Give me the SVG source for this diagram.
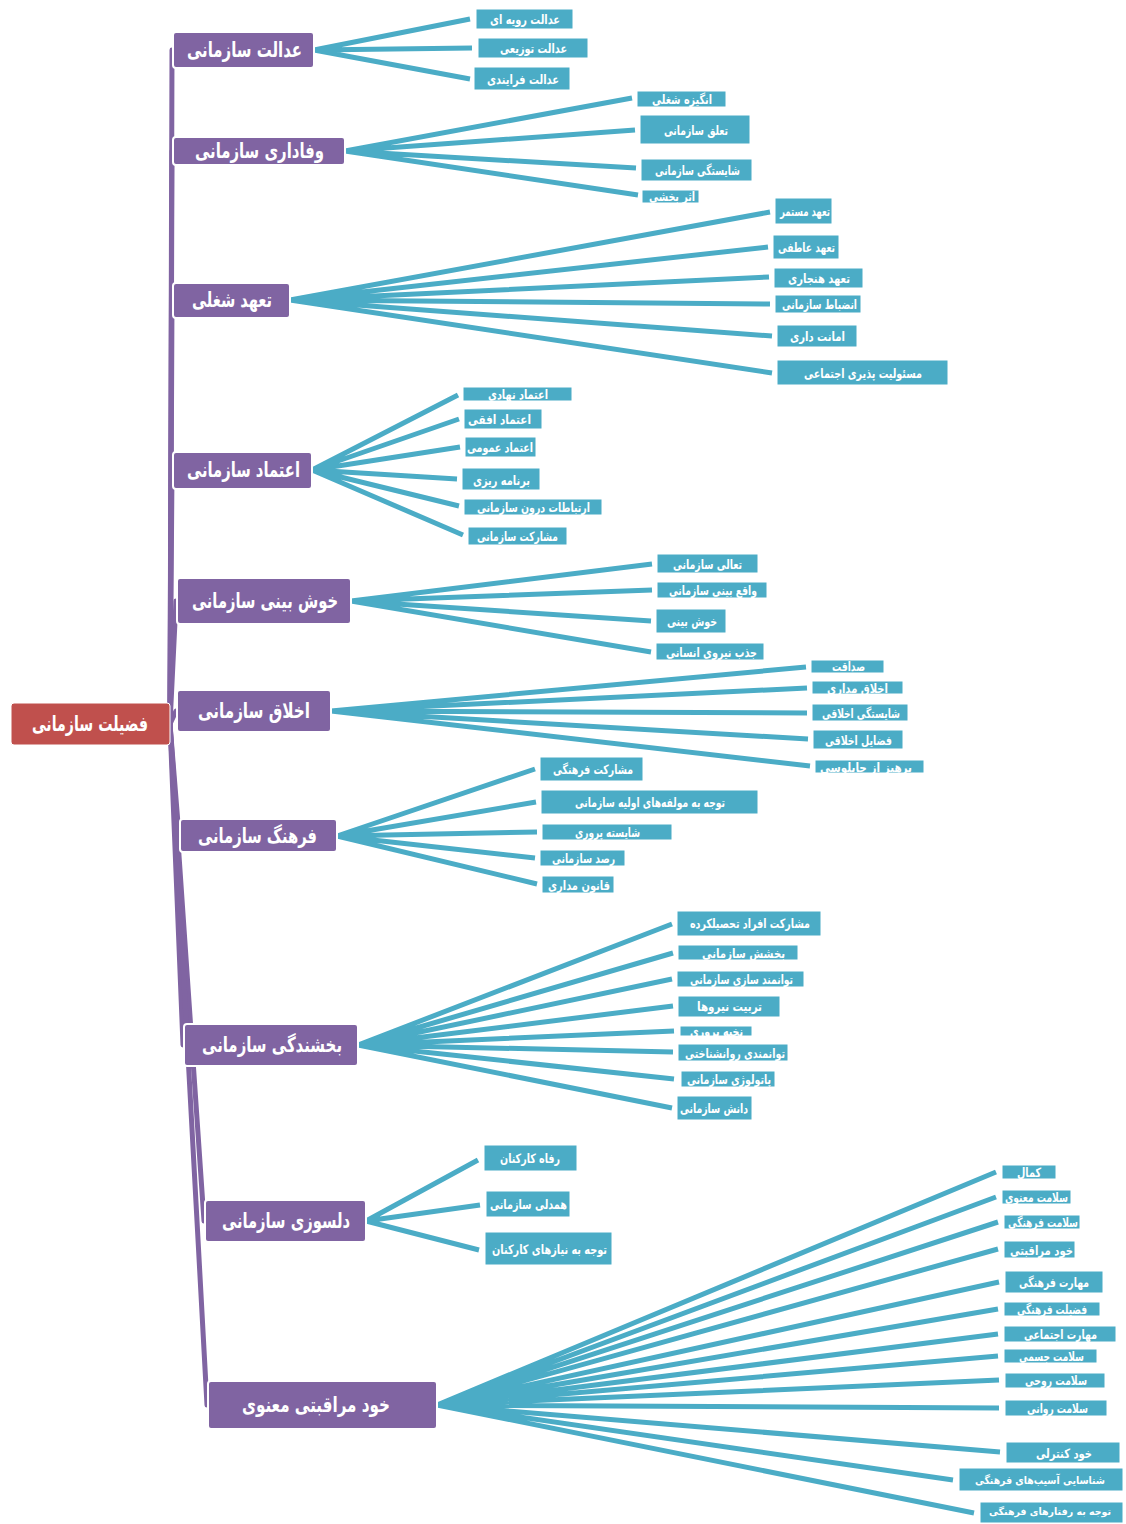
<svg xmlns="http://www.w3.org/2000/svg" width="1126" height="1524" viewBox="0 0 1126 1524">
<style>
.trunk{stroke:#8064A2;stroke-width:5;fill:none;stroke-linecap:round}
.link{stroke:#4BACC6;stroke-width:5;fill:none}
.root rect{fill:#C0504D;stroke:#ffffff;stroke-width:1}
.br rect{fill:#8064A2;stroke:#ffffff;stroke-width:2}
.lf rect{fill:#4BACC6;stroke:#ffffff;stroke-width:1}
text{font-family:"DejaVu Sans","Noto Sans",sans-serif;font-weight:bold;fill:#ffffff;text-anchor:middle;dominant-baseline:central}
.root text{font-size:21px}
.br text{font-size:21px}
.lf text{font-size:13px}
.lf text.sm{font-size:11px}
.lf text.xs{font-size:10px}
</style>
<rect x="0" y="0" width="1126" height="1524" fill="#ffffff"/>
<g id="connectors">
<g id="trunks">
<path class="trunk" d="M170,724 L172,50"/>
<path class="trunk" d="M170,724 L172,151"/>
<path class="trunk" d="M170,724 L172,300"/>
<path class="trunk" d="M170,724 L172,470"/>
<path class="trunk" d="M170,724 L176,601"/>
<path class="trunk" d="M170,724 L176,711"/>
<path class="trunk" d="M170,724 L179,836"/>
<path class="trunk" d="M170,724 L183,1045"/>
<path class="trunk" d="M170,724 L204,1221"/>
<path class="trunk" d="M170,724 L207,1405"/>
</g>
<g id="links">
<path class="link" d="M314,50 L470,19 M314,50 L472,48 M314,50 L470,79"/>
<path class="link" d="M345,151 L632,98 M345,151 L635,130 M345,151 L636,168 M345,151 L638,195"/>
<path class="link" d="M290,300 L770,212 M290,300 L768,247 M290,300 L769,277 M290,300 L770,304 M290,300 L772,336 M290,300 L772,373"/>
<path class="link" d="M312,470 L458,395 M312,470 L459,419 M312,470 L460,447 M312,470 L457,479 M312,470 L459,506 M312,470 L463,535"/>
<path class="link" d="M351,601 L652,564 M351,601 L652,590 M351,601 L651,621 M351,601 L651,652"/>
<path class="link" d="M331,711 L806,667 M331,711 L807,688 M331,711 L807,713 M331,711 L808,739 M331,711 L810,766"/>
<path class="link" d="M337,836 L535,769 M337,836 L536,802 M337,836 L537,832 M337,836 L535,858 M337,836 L537,884"/>
<path class="link" d="M358,1045 L672,924 M358,1045 L673,953 M358,1045 L672,979 M358,1045 L673,1006 M358,1045 L674,1031 M358,1045 L673,1052 M358,1045 L674,1079 M358,1045 L672,1108"/>
<path class="link" d="M366,1221 L478,1160 M366,1221 L480,1205 M366,1221 L479,1250"/>
<path class="link" d="M437,1405 L996,1172 M437,1405 L996,1197 M437,1405 L998,1222 M437,1405 L998,1249 M437,1405 L999,1282 M437,1405 L998,1309 M437,1405 L998,1334 M437,1405 L998,1356 M437,1405 L999,1380 M437,1405 L999,1408 M437,1405 L1000,1452 M437,1405 L953,1480 M437,1405 L974,1513"/>
</g>
</g>
<g id="root" class="root"><rect x="11" y="703" width="159" height="42" rx="3"/><text x="90" y="724" textLength="116" lengthAdjust="spacingAndGlyphs">فضیلت سازمانی</text></g>

<g id="b1" class="br"><rect x="173" y="32" width="141" height="36" rx="3"/><text x="244.5" y="50" textLength="115" lengthAdjust="spacingAndGlyphs">عدالت سازمانی</text></g>
<g id="b2" class="br"><rect x="173" y="137" width="172" height="28" rx="3"/><text x="259.5" y="151" textLength="129" lengthAdjust="spacingAndGlyphs">وفاداری سازمانی</text></g>
<g id="b3" class="br"><rect x="173" y="283" width="117" height="35" rx="3"/><text x="232" y="300" textLength="80" lengthAdjust="spacingAndGlyphs">تعهد شغلی</text></g>
<g id="b4" class="br"><rect x="173" y="452" width="139" height="37" rx="3"/><text x="243.5" y="470" textLength="113" lengthAdjust="spacingAndGlyphs">اعتماد سازمانی</text></g>
<g id="b5" class="br"><rect x="177" y="578" width="174" height="46" rx="3"/><text x="265" y="601" textLength="146" lengthAdjust="spacingAndGlyphs">خوش بینی سازمانی</text></g>
<g id="b6" class="br"><rect x="177" y="690" width="154" height="42" rx="3"/><text x="254" y="711" textLength="112" lengthAdjust="spacingAndGlyphs">اخلاق سازمانی</text></g>
<g id="b7" class="br"><rect x="180" y="819" width="157" height="33" rx="3"/><text x="257.5" y="836" textLength="119" lengthAdjust="spacingAndGlyphs">فرهنگ سازمانی</text></g>
<g id="b8" class="br"><rect x="184" y="1024" width="174" height="42" rx="3"/><text x="272" y="1045" textLength="140" lengthAdjust="spacingAndGlyphs">بخشندگی سازمانی</text></g>
<g id="b9" class="br"><rect x="205" y="1200" width="161" height="42" rx="3"/><text x="286" y="1221" textLength="128" lengthAdjust="spacingAndGlyphs">دلسوزی سازمانی</text></g>
<g id="b10" class="br"><rect x="208" y="1381" width="229" height="48" rx="3"/><text x="316" y="1405" textLength="148" lengthAdjust="spacingAndGlyphs">خود مراقبتی معنوی</text></g>

<g id="l1a" class="lf"><rect x="476" y="9" width="97" height="20"/><text x="525" y="19" textLength="70" lengthAdjust="spacingAndGlyphs">عدالت رویه ای</text></g>
<g id="l1b" class="lf"><rect x="478" y="38" width="110" height="20"/><text x="533.5" y="48" textLength="67" lengthAdjust="spacingAndGlyphs">عدالت توزیعی</text></g>
<g id="l1c" class="lf"><rect x="474" y="67" width="96" height="23"/><text x="523" y="79" textLength="72" lengthAdjust="spacingAndGlyphs">عدالت فرایندی</text></g>

<g id="l2a" class="lf"><rect x="637" y="91" width="89" height="16"/><text x="682" y="99" textLength="60" lengthAdjust="spacingAndGlyphs">انگیزه شغلی</text></g>
<g id="l2b" class="lf"><rect x="640" y="115" width="110" height="29"/><text x="696" y="130" textLength="64" lengthAdjust="spacingAndGlyphs">تعلق سازمانی</text></g>
<g id="l2c" class="lf"><rect x="641" y="159" width="111" height="22"/><text x="697.5" y="170" textLength="85" lengthAdjust="spacingAndGlyphs">شایستگی سازمانی</text></g>
<g id="l2d" class="lf"><rect x="642" y="190" width="57" height="13"/><text x="672" y="196" textLength="46" lengthAdjust="spacingAndGlyphs">اثر بخشی</text></g>

<g id="l3a" class="lf"><rect x="775" y="198" width="57" height="26"/><text x="805" y="211" textLength="50" lengthAdjust="spacingAndGlyphs">تعهد مستمر</text></g>
<g id="l3b" class="lf"><rect x="773" y="235" width="66" height="24"/><text x="806.5" y="247" textLength="57" lengthAdjust="spacingAndGlyphs">تعهد عاطفی</text></g>
<g id="l3c" class="lf"><rect x="774" y="268" width="89" height="20"/><text x="819" y="278" textLength="62" lengthAdjust="spacingAndGlyphs">تعهد هنجاری</text></g>
<g id="l3d" class="lf"><rect x="775" y="295" width="86" height="18"/><text x="819.5" y="304" textLength="75" lengthAdjust="spacingAndGlyphs">انضباط سازمانی</text></g>
<g id="l3e" class="lf"><rect x="777" y="325" width="80" height="22"/><text x="817.5" y="336" textLength="55" lengthAdjust="spacingAndGlyphs">امانت داری</text></g>
<g id="l3f" class="lf"><rect x="777" y="360" width="171" height="25"/><text x="863" y="373" textLength="118" lengthAdjust="spacingAndGlyphs">مسئولیت پذیری اجتماعی</text></g>

<g id="l4a" class="lf"><rect x="463" y="387" width="109" height="14"/><text x="518" y="394" textLength="60" lengthAdjust="spacingAndGlyphs">اعتماد نهادی</text></g>
<g id="l4b" class="lf"><rect x="464" y="409" width="78" height="20"/><text x="499.5" y="419" textLength="63" lengthAdjust="spacingAndGlyphs">اعتماد افقی</text></g>
<g id="l4c" class="lf"><rect x="465" y="437" width="71" height="20"/><text x="500" y="447" textLength="66" lengthAdjust="spacingAndGlyphs">اعتماد عمومی</text></g>
<g id="l4d" class="lf"><rect x="462" y="468" width="78" height="22"/><text x="501.5" y="480" textLength="57" lengthAdjust="spacingAndGlyphs">برنامه ریزی</text></g>
<g id="l4e" class="lf"><rect x="464" y="499" width="138" height="16"/><text x="533.5" y="507" textLength="113" lengthAdjust="spacingAndGlyphs">ارتباطات درون سازمانی</text></g>
<g id="l4f" class="lf"><rect x="468" y="527" width="99" height="18"/><text x="517.5" y="536" textLength="81" lengthAdjust="spacingAndGlyphs">مشارکت سازمانی</text></g>

<g id="l5a" class="lf"><rect x="657" y="554" width="101" height="19"/><text x="707.5" y="564" textLength="69" lengthAdjust="spacingAndGlyphs">تعالی سازمانی</text></g>
<g id="l5b" class="lf"><rect x="657" y="582" width="110" height="16"/><text x="713" y="590" textLength="88" lengthAdjust="spacingAndGlyphs">واقع بینی سازمانی</text></g>
<g id="l5c" class="lf"><rect x="656" y="609" width="70" height="24"/><text x="692" y="621" textLength="50" lengthAdjust="spacingAndGlyphs">خوش بینی</text></g>
<g id="l5d" class="lf"><rect x="656" y="643" width="108" height="17"/><text x="711.5" y="652" textLength="91" lengthAdjust="spacingAndGlyphs">جذب نیروی انسانی</text></g>

<g id="l6a" class="lf"><rect x="811" y="660" width="73" height="13"/><text x="848.5" y="666" textLength="33" lengthAdjust="spacingAndGlyphs">صداقت</text></g>
<g id="l6b" class="lf"><rect x="812" y="681" width="91" height="13"/><text x="857.5" y="688" textLength="61" lengthAdjust="spacingAndGlyphs">اخلاق مداری</text></g>
<g id="l6c" class="lf"><rect x="812" y="704" width="96" height="17"/><text x="861" y="713" textLength="78" lengthAdjust="spacingAndGlyphs">شایستگی اخلاقی</text></g>
<g id="l6d" class="lf"><rect x="813" y="730" width="90" height="19"/><text x="858.5" y="740" textLength="67" lengthAdjust="spacingAndGlyphs">فضایل اخلاقی</text></g>
<g id="l6e" class="lf"><rect x="815" y="760" width="109" height="13"/><text x="866" y="767" textLength="92" lengthAdjust="spacingAndGlyphs">پرهیز از چاپلوسی</text></g>

<g id="l7a" class="lf"><rect x="540" y="757" width="103" height="24"/><text x="593" y="769" textLength="80" lengthAdjust="spacingAndGlyphs">مشارکت فرهنگی</text></g>
<g id="l7b" class="lf"><rect x="541" y="790" width="217" height="24"/><text x="650" y="802" textLength="150" lengthAdjust="spacingAndGlyphs">توجه به مولفه‌های اولیه سازمانی</text></g>
<g id="l7c" class="lf"><rect x="542" y="824" width="130" height="16"/><text x="607.5" y="832" textLength="65" lengthAdjust="spacingAndGlyphs">شایسته پروری</text></g>
<g id="l7d" class="lf"><rect x="540" y="850" width="85" height="16"/><text x="583.5" y="858" textLength="63" lengthAdjust="spacingAndGlyphs">رصد سازمانی</text></g>
<g id="l7e" class="lf"><rect x="542" y="876" width="72" height="17"/><text x="579" y="885" textLength="62" lengthAdjust="spacingAndGlyphs">قانون مداری</text></g>

<g id="l8a" class="lf"><rect x="677" y="911" width="144" height="25"/><text x="750" y="923" textLength="120" lengthAdjust="spacingAndGlyphs">مشارکت افراد تحصیلکرده</text></g>
<g id="l8b" class="lf"><rect x="678" y="945" width="120" height="15"/><text x="743.5" y="953" textLength="83" lengthAdjust="spacingAndGlyphs">بخشش سازمانی</text></g>
<g id="l8c" class="lf"><rect x="677" y="971" width="127" height="16"/><text x="741.5" y="979" textLength="103" lengthAdjust="spacingAndGlyphs">توانمند سازی سازمانی</text></g>
<g id="l8d" class="lf"><rect x="678" y="996" width="102" height="21"/><text x="729.5" y="1006" textLength="65" lengthAdjust="spacingAndGlyphs">تربیت نیروها</text></g>
<g id="l8e" class="lf"><rect x="680" y="1026" width="72" height="10"/><text x="716.5" y="1031" textLength="53" lengthAdjust="spacingAndGlyphs">نخبه پروری</text></g>
<g id="l8f" class="lf"><rect x="678" y="1044" width="110" height="17"/><text x="735" y="1053" textLength="100" lengthAdjust="spacingAndGlyphs">توانمندی روانشناختی</text></g>
<g id="l8g" class="lf"><rect x="681" y="1071" width="94" height="16"/><text x="729" y="1079" textLength="84" lengthAdjust="spacingAndGlyphs">پاتولوژی سازمانی</text></g>
<g id="l8h" class="lf"><rect x="677" y="1096" width="75" height="24"/><text x="714" y="1108" textLength="68" lengthAdjust="spacingAndGlyphs">دانش سازمانی</text></g>

<g id="l9a" class="lf"><rect x="484" y="1145" width="93" height="26"/><text x="530" y="1158" textLength="60" lengthAdjust="spacingAndGlyphs">رفاه کارکنان</text></g>
<g id="l9b" class="lf"><rect x="486" y="1191" width="84" height="26"/><text x="528.5" y="1204" textLength="77" lengthAdjust="spacingAndGlyphs">همدلی سازمانی</text></g>
<g id="l9c" class="lf"><rect x="485" y="1232" width="127" height="33"/><text x="549.5" y="1249" textLength="115" lengthAdjust="spacingAndGlyphs">توجه به نیازهای کارکنان</text></g>

<g id="l10a" class="lf"><rect x="1002" y="1165" width="54" height="14"/><text x="1029" y="1172" textLength="24" lengthAdjust="spacingAndGlyphs">کمال</text></g>
<g id="l10b" class="lf"><rect x="1002" y="1190" width="69" height="14"/><text x="1036.5" y="1197" textLength="63" lengthAdjust="spacingAndGlyphs">سلامت معنوی</text></g>
<g id="l10c" class="lf"><rect x="1004" y="1215" width="76" height="14"/><text x="1043" y="1222" textLength="70" lengthAdjust="spacingAndGlyphs">سلامت فرهنگی</text></g>
<g id="l10d" class="lf"><rect x="1004" y="1241" width="71" height="17"/><text x="1041.5" y="1250" textLength="63" lengthAdjust="spacingAndGlyphs">خود مراقبتی</text></g>
<g id="l10e" class="lf"><rect x="1005" y="1271" width="98" height="22"/><text x="1054" y="1282" textLength="70" lengthAdjust="spacingAndGlyphs">مهارت فرهنگی</text></g>
<g id="l10f" class="lf"><rect x="1004" y="1302" width="96" height="14"/><text x="1052" y="1309" textLength="70" lengthAdjust="spacingAndGlyphs">فضیلت فرهنگی</text></g>
<g id="l10g" class="lf"><rect x="1004" y="1326" width="112" height="16"/><text x="1060.5" y="1334" textLength="73" lengthAdjust="spacingAndGlyphs">مهارت اجتماعی</text></g>
<g id="l10h" class="lf"><rect x="1004" y="1349" width="93" height="14"/><text x="1051.5" y="1356" textLength="65" lengthAdjust="spacingAndGlyphs">سلامت جسمی</text></g>
<g id="l10i" class="lf"><rect x="1005" y="1373" width="100" height="15"/><text x="1056" y="1380" textLength="62" lengthAdjust="spacingAndGlyphs">سلامت روحی</text></g>
<g id="l10j" class="lf"><rect x="1005" y="1400" width="102" height="16"/><text x="1057.5" y="1408" textLength="61" lengthAdjust="spacingAndGlyphs">سلامت روانی</text></g>
<g id="l10k" class="lf"><rect x="1006" y="1442" width="114" height="21"/><text x="1064" y="1453" textLength="56" lengthAdjust="spacingAndGlyphs">خود کنترلی</text></g>
<g id="l10l" class="lf"><rect x="959" y="1468" width="164" height="23"/><text class="sm" x="1040" y="1480" textLength="130" lengthAdjust="spacingAndGlyphs">شناسایی آسیب‌های فرهنگی</text></g>
<g id="l10m" class="lf"><rect x="980" y="1502" width="143" height="21"/><text class="xs" x="1050" y="1511" textLength="122" lengthAdjust="spacingAndGlyphs">توجه به رفتارهای فرهنگی</text></g>
</svg>
